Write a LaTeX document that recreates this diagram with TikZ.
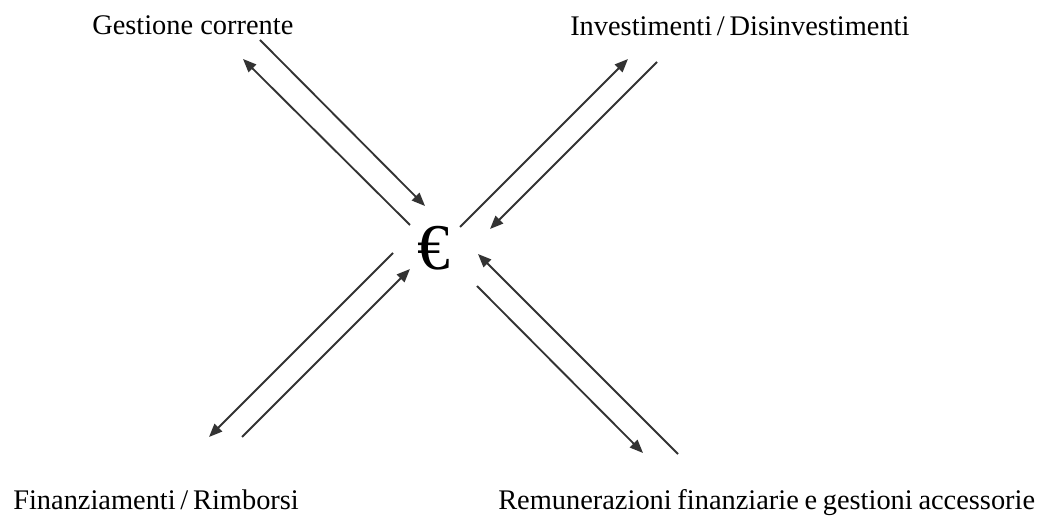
\documentclass[tikz,border=0pt]{standalone}
\usepackage{fontspec}
\setmainfont{Liberation Serif}
\usetikzlibrary{arrows.meta}
\begin{document}
\begin{tikzpicture}[x=0.75pt,y=-0.75pt,
  flow/.style={line width=1.4pt,draw=black!80,-{Triangle[length=10pt,width=8pt]}},
  lbl/.style={anchor=base west,inner sep=0pt,font=\fontsize{21.3}{24}\selectfont}]
\useasboundingbox (0,0) rectangle (1043,523);
% labels
\node[lbl] (gc) at (92,35) {Gestione corrente};
\node[lbl] (inv) at (570,36) {Investimenti\,/\,Disinvestimenti};
\node[lbl] (fin) at (13,510) {Finanziamenti\,/\,Rimborsi};
\node[lbl] (rem) at (498,510) {\spaceskip=0.2em Remunerazioni finanziarie e gestioni accessorie};
\node[anchor=base,inner sep=0pt,font=\fontsize{49}{50}\selectfont] (eur) at (434,270) {€};
% endpoints
\coordinate (a1) at (260,40);  \coordinate (a2) at (425,206);
\coordinate (b1) at (410,225); \coordinate (b2) at (243,59);
\coordinate (c1) at (460,227); \coordinate (c2) at (628,59);
\coordinate (d1) at (657,62);  \coordinate (d2) at (490,229);
\coordinate (e1) at (393,253); \coordinate (e2) at (209,437);
\coordinate (f1) at (242,437); \coordinate (f2) at (410,269);
\coordinate (g1) at (678,454); \coordinate (g2) at (478,254);
\coordinate (h1) at (477,286); \coordinate (h2) at (643,453);
\draw[flow] (a1) -- (a2);
\draw[flow] (b1) -- (b2);
\draw[flow] (c1) -- (c2);
\draw[flow] (d1) -- (d2);
\draw[flow] (e1) -- (e2);
\draw[flow] (f1) -- (f2);
\draw[flow] (g1) -- (g2);
\draw[flow] (h1) -- (h2);
\end{tikzpicture}
\end{document}
